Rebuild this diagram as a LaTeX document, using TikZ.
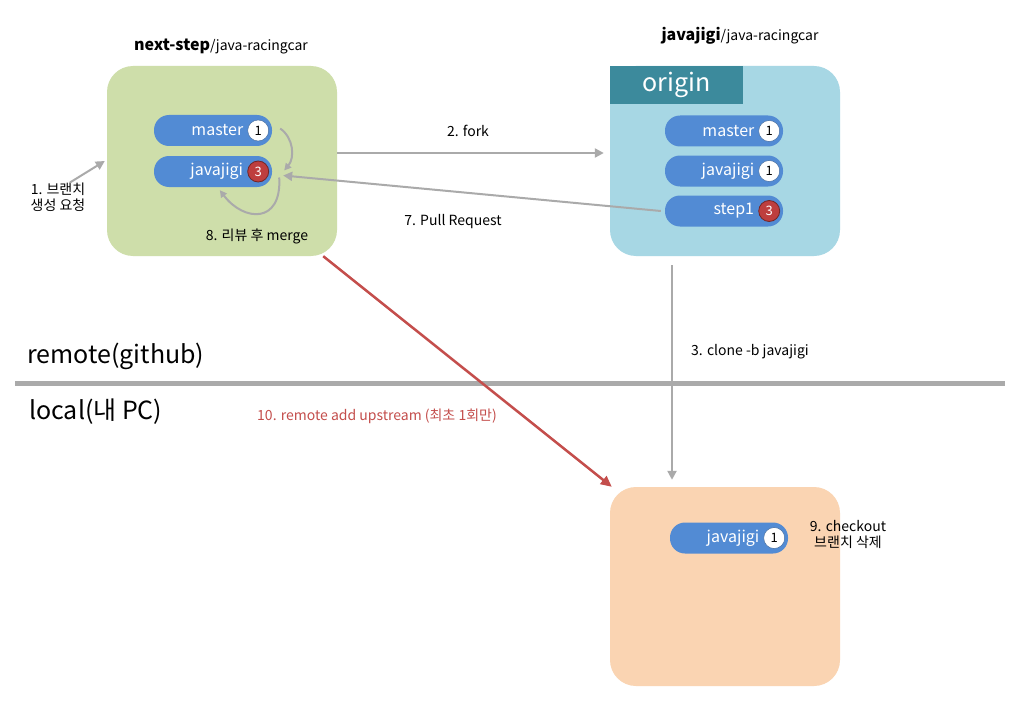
\documentclass[tikz,border=0pt]{standalone}
\usepackage{fontspec}
\setmainfont{Noto Sans CJK KR}
\usetikzlibrary{arrows.meta}

\definecolor{greenbox}{RGB}{206,222,170}
\definecolor{bluebox}{RGB}{167,215,228}
\definecolor{originhdr}{RGB}{60,138,156}
\definecolor{peachbox}{RGB}{250,212,178}
\definecolor{pillblue}{RGB}{82,139,212}
\definecolor{badgered}{RGB}{190,62,62}
\definecolor{linegray}{RGB}{170,170,170}
\definecolor{upred}{RGB}{196,78,76}

% branch pill: name, position, label, badge style, commit count
\newcommand{\branch}[5]{%
  \node[pill] (#1) at #2 {};
  \node[badge,#4] (#1-n) at ([xshift=-14pt]#1.east) {#5};
  \node[pilltext,anchor=east] at ([xshift=-4pt]#1-n.west) {#3};
}

\begin{document}
\begin{tikzpicture}[x=1pt,y=-1pt,
  repo/.style={rounded corners=26pt,minimum width=230pt,minimum height=190pt,inner sep=0pt},
  pill/.style={fill=pillblue,rounded corners=15pt,minimum width=118pt,minimum height=31pt,inner sep=0pt},
  pilltext/.style={text=white,font=\fontsize{16}{18}\selectfont,inner sep=0pt},
  badge/.style={circle,minimum size=21pt,inner sep=0pt,font=\fontsize{13}{15}\selectfont},
  plain/.style={fill=white,draw=pillblue!70!black,line width=0.4pt},
  hot/.style={fill=badgered,draw=badgered!60!black,line width=0.8pt,text=white},
  flow/.style={draw=linegray,line width=2.5pt,-{Triangle[length=9pt,width=9pt]}},
  mergearrow/.style={draw=linegray,line width=2pt,-{Triangle[length=7pt,width=7pt]}},
  note/.style={font=\fontsize{14}{16}\selectfont,align=center,inner sep=0pt},
  zone/.style={font=\fontsize{25}{27}\selectfont,anchor=west,inner sep=0pt}
]
  \useasboundingbox[fill=white] (0,0) rectangle (1025,706);

  % repositories
  \node[repo,fill=greenbox] (up) at (222,161) {};
  \node[repo,fill=bluebox] (ob) at (725,161) {};
  \node[repo,fill=peachbox,minimum height=199pt] (lc) at (725,586.5) {};
  \node[fill=originhdr,minimum width=133pt,minimum height=38pt,inner sep=0pt,anchor=north west,
    text=white,font=\fontsize{25}{27}\selectfont] (hdr) at (ob.north west) {origin};

  \node[inner sep=0pt] (uptitle) at (221,46) {\fontsize{16}{18}\selectfont\bfseries next-step\fontsize{14}{16}\mdseries/java-racingcar};
  \node[inner sep=0pt] (obtitle) at (740,36) {\fontsize{16}{18}\selectfont\bfseries javajigi\fontsize{14}{16}\mdseries/java-racingcar};

  % branches
  \branch{um}{(213,130.5)}{master}{plain}{1}
  \branch{uj}{(213,171.5)}{javajigi}{hot}{3}
  \branch{om}{(724,131)}{master}{plain}{1}
  \branch{oj}{(724,171)}{javajigi}{plain}{1}
  \branch{os}{(724,211)}{step1}{hot}{3}
  \branch{lj}{(729,538)}{javajigi}{plain}{1}

  % remote / local
  \coordinate (sepL) at (15,383);
  \coordinate (sepR) at (1005,383);
  \draw[linegray,line width=5pt] (sepL) -- (sepR);
  \node[zone] (remote) at (27,356) {remote(github)};
  \node[zone] (local) at (29,412) {local(내 PC)};

  % steps
  \node[note] (req) at (58,197) {1. 브랜치\\생성 요청};
  \path[flow,line width=2pt] ([xshift=12pt]req.north) -- ([xshift=-2pt]up.west);

  \path[flow] ([yshift=8pt]up.east) -- ([xshift=-6pt,yshift=8pt]ob.west);
  \node[note] (fork) at (468,131) {2. fork};

  \path[flow] ([xshift=-53pt,yshift=-9pt]ob.south) -- ([xshift=-53pt,yshift=7pt]lc.north);
  \node[note] (clone) at (750,352) {3. clone -b javajigi};

  \path[flow,line width=2pt] ([xshift=-4pt]os.west) -- ([xshift=11pt,yshift=-4pt]uj.east);
  \node[note] (pr) at (453,222) {7. Pull Request};

  \path[mergearrow] ([xshift=8pt,yshift=2pt]um.east) to[out=-35,in=50] ([xshift=12pt,yshift=1pt]uj.east);
  \path[mergearrow] ([xshift=7pt,yshift=-6pt]uj.east) .. controls (282,224) and (244,222) .. ([xshift=66pt,yshift=-3pt]uj.south west);
  \node[note] (merge) at (257,236) {8. 리뷰 후 merge};

  \node[note] (del) at (848,534) {9. checkout\\브랜치 삭제};

  \path[draw=upred,line width=2.5pt,-{Triangle[length=11pt,width=10pt]}]
    ([xshift=-14pt]up.south east) -- ([xshift=2pt]lc.north west);
  \node[note,text=upred] (upstream) at (377,416) {10. remote add upstream (최초 1회만)};
\end{tikzpicture}
\end{document}
